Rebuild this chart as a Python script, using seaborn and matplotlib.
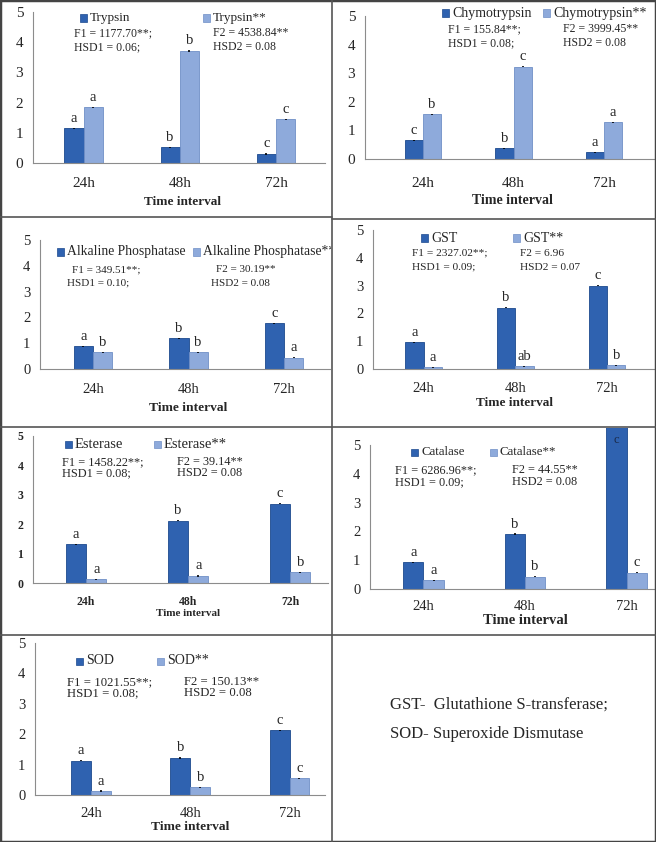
import numpy as np
import pandas as pd
import matplotlib
matplotlib.use("Agg")
import matplotlib.pyplot as plt
import seaborn as sns
from matplotlib.patches import Rectangle
from matplotlib.lines import Line2D

sns.set_style("white")
plt.rcParams['font.family'] = ['Liberation Serif', 'DejaVu Serif']

W, H = 656, 842
DARK = "#2f62b0"
LIGHT = "#8eaadb"
DARK_EDGE = "#1d4a8e"
LIGHT_EDGE = "#6f8fc6"
AXIS = "#8c8c8c"
LETTER_FS = 10.5

times = ["24h", "48h", "72h"]

trypsin = [1.15, 0.52, 0.30]
trypsin_ss = [1.85, 3.71, 1.45]
trypsin_let = ["a", "b", "c"]
trypsin_ss_let = ["a", "b", "c"]

chymo = [0.66, 0.37, 0.23]
chymo_ss = [1.57, 3.23, 1.28]
chymo_let = ["c", "b", "a"]
chymo_ss_let = ["b", "c", "a"]

alp = [0.89, 1.19, 1.77]
alp_ss = [0.65, 0.65, 0.44]
alp_let = ["a", "b", "c"]
alp_ss_let = ["b", "b", "a"]

gst = [0.96, 2.21, 3.00]
gst_ss = [0.06, 0.10, 0.14]
gst_let = ["a", "b", "c"]
gst_ss_let = ["a", "ab", "b"]

est = [1.31, 2.12, 2.70]
est_ss = [0.12, 0.24, 0.37]
est_let = ["a", "b", "c"]
est_ss_let = ["a", "a", "b"]

cat = [0.93, 1.91, 6.30]
cat_ss = [0.30, 0.42, 0.56]
cat_let = ["a", "b", "c"]
cat_ss_let = ["a", "b", "c"]

sod = [1.13, 1.22, 2.13]
sod_ss = [0.13, 0.25, 0.55]
sod_let = ["a", "b", "c"]
sod_ss_let = ["a", "b", "c"]

err = 0.02

panels = [
    dict(name="Trypsin", v1=trypsin, v2=trypsin_ss, l1=trypsin_let, l2=trypsin_ss_let,
         s1="F1 = 1177.70**;", h1="HSD1 = 0.06;", s2="F2 = 4538.84**", h2="HSD2 = 0.08",
         c0=83.5, step=96.3, xa=33, xb=325, y0=163, y5=12, ytop=12, clip=(0, 332),
         leg=[(80, 18), (203, 18)], st=[(74, 74), (213, 213), 33, 47],
         tick_fs=11, leg_fs=9.5, st_fs=8.5, lab_fs=9.5, tick_y=182, lab=(182, 202)),
    dict(name="Chymotrypsin", v1=chymo, v2=chymo_ss, l1=chymo_let, l2=chymo_ss_let,
         s1="F1 = 155.84**;", h1="HSD1 = 0.08;", s2="F2 = 3999.45**", h2="HSD2 = 0.08",
         c0=423, step=90.5, xa=365, xb=655, y0=159, y5=16, ytop=16, clip=(332, W),
         leg=[(442, 13), (543, 13)], st=[(448, 448), (563, 563), 29, 43],
         tick_fs=11, leg_fs=10, st_fs=8.5, lab_fs=10, tick_y=182, lab=(512, 200)),
    dict(name="Alkaline Phosphatase", v1=alp, v2=alp_ss, l1=alp_let, l2=alp_ss_let,
         s1="F1 = 349.51**;", h1="HSD1 = 0.10;", s2="F2 = 30.19**", h2="HSD2 = 0.08",
         c0=93, step=95.5, xa=40, xb=330, y0=369, y5=240, ytop=240, clip=(0, 331),
         leg=[(57, 252), (193, 252)], st=[(72, 67), (216, 211), 270, 283],
         tick_fs=10.5, leg_fs=9.8, st_fs=8, lab_fs=9.7, tick_y=388, lab=(188, 408)),
    dict(name="GST", v1=gst, v2=gst_ss, l1=gst_let, l2=gst_ss_let,
         s1="F1 = 2327.02**;", h1="HSD1 = 0.09;", s2="F2 = 6.96", h2="HSD2 = 0.07",
         c0=423.5, step=91.75, xa=373, xb=655, y0=369, y5=230, ytop=230, clip=(332, W),
         leg=[(421, 238), (513, 238)], st=[(412, 412), (520, 520), 253, 267],
         tick_fs=10.5, leg_fs=10, st_fs=8.2, lab_fs=9.5, tick_y=387, lab=(515, 403)),
    dict(name="Esterase", v1=est, v2=est_ss, l1=est_let, l2=est_ss_let,
         s1="F1 = 1458.22**;", h1="HSD1 = 0.08;", s2="F2 = 39.14**", h2="HSD2 = 0.08",
         c0=86, step=102, xa=33, xb=328, y0=583, y5=436, ytop=436, clip=(0, 332),
         leg=[(65, 444), (154, 444)], st=[(62, 62), (177, 177), 462, 473],
         tick_fs=8.5, tick_bold=True, leg_fs=10.5, st_fs=8.8, lab_fs=8, tick_y=600, lab=(188, 613)),
    dict(name="Catalase", v1=cat, v2=cat_ss, l1=cat_let, l2=cat_ss_let,
         s1="F1 = 6286.96**;", h1="HSD1 = 0.09;", s2="F2 = 44.55**", h2="HSD2 = 0.08",
         c0=423.5, step=101.5, xa=370, xb=655, y0=589, y5=445, ytop=428, clip=(332, W),
         leg=[(411, 452), (490, 452)], st=[(395, 395), (512, 512), 470, 482],
         tick_fs=10.5, leg_fs=9.3, st_fs=8.8, lab_fs=10.5, tick_y=605, lab=(525, 620)),
    dict(name="SOD", v1=sod, v2=sod_ss, l1=sod_let, l2=sod_ss_let,
         s1="F1 = 1021.55**;", h1="HSD1 = 0.08;", s2="F2 = 150.13**", h2="HSD2 = 0.08",
         c0=91, step=99.25, xa=35, xb=325, y0=795, y5=643, ytop=643, clip=(0, 332),
         leg=[(76, 661), (157, 661)], st=[(67, 67), (184, 184), 682, 693],
         tick_fs=10.5, leg_fs=10, st_fs=9.2, lab_fs=9.7, tick_y=812, lab=(190, 827)),
]

fig = plt.figure(figsize=(W / 100, H / 100), dpi=100)


def fx(x):
    return x / W


def fy(y):
    return 1 - y / H


for p in panels:
    unit = (p["y0"] - p["y5"]) / 5
    top_val = (p["y0"] - p["ytop"]) / unit
    ax = fig.add_axes([fx(p["xa"]), fy(p["y0"]), (p["xb"] - p["xa"]) / W, (p["y0"] - p["ytop"]) / H])
    df = pd.DataFrame({
        "time": times * 2,
        "value": p["v1"] + p["v2"],
        "group": [p["name"]] * 3 + [p["name"] + "**"] * 3,
    })
    sns.barplot(data=df, x="time", y="value", hue="group", palette=[DARK, LIGHT],
                width=0.4, errorbar=None, legend=False, saturation=1, ax=ax)
    ax.set_xlim((p["xa"] - p["c0"]) / p["step"], (p["xb"] - p["c0"]) / p["step"])
    ax.set_ylim(0, top_val)
    ax.set_yticks(range(6))

    for cont, letters, edge in zip(ax.containers, [p["l1"], p["l2"]], [DARK_EDGE, LIGHT_EDGE]):
        for bar, lt in zip(cont, letters):
            bar.set_edgecolor(edge)
            bar.set_linewidth(0.6)
            h = bar.get_height()
            x = bar.get_x() + bar.get_width() / 2
            if h > top_val:
                ax.annotate(lt, (x, top_val), xytext=(0, -4), textcoords="offset points",
                            ha="center", va="top", fontsize=9, color="#1a2a4a")
            else:
                ax.errorbar(x, h, yerr=err, fmt="none", ecolor="black", elinewidth=1.2, capsize=0)
                ax.annotate(lt, (x, h), xytext=(0, 2.5), textcoords="offset points",
                            ha="center", va="bottom", fontsize=LETTER_FS)

    sns.despine(ax=ax)
    for side in ["left", "bottom"]:
        ax.spines[side].set_color(AXIS)
        ax.spines[side].set_linewidth(0.8)
    ax.spines["left"].set_bounds(0, 5)
    ax.tick_params(axis="y", length=4, color=AXIS, labelsize=p["tick_fs"], pad=3)
    pad_pt = (p["tick_y"] - p["y0"]) * 0.72 - 0.35 * p["tick_fs"]
    ax.tick_params(axis="x", length=0, labelsize=p["tick_fs"], pad=pad_pt)
    if p.get("tick_bold"):
        for t in ax.get_xticklabels() + ax.get_yticklabels():
            t.set_fontweight("bold")
    ax.set_ylabel("")
    ax.set_xlabel("Time interval", fontsize=p["lab_fs"], fontweight="bold")
    lx, ly = p["lab"]
    ax.xaxis.set_label_coords((lx - p["xa"]) / (p["xb"] - p["xa"]),
                              (p["y0"] - ly) / (p["y0"] - p["ytop"]))
    ax.xaxis.label.set_va("center")
    ax.patch.set_alpha(0)

    # clip region of this panel, so long legend text stops at the divider
    cx0, cx1 = p["clip"]
    clip_rect = Rectangle((fx(cx0), 0), (cx1 - cx0) / W, 1, transform=fig.transFigure)

    # legend entries
    for (mx, my), lbl, col, edge in zip(p["leg"], [p["name"], p["name"] + "**"],
                                        [DARK, LIGHT], [DARK_EDGE, LIGHT_EDGE]):
        fig.add_artist(Rectangle((fx(mx), fy(my + 3.5)), 7 / W, 7 / H, transform=fig.transFigure,
                                 facecolor=col, edgecolor=edge, linewidth=0.5))
        t = fig.text(fx(mx + 10), fy(my), lbl, fontsize=p["leg_fs"], va="center", ha="left")
        t.set_clip_path(clip_rect)

    # statistics
    (f1x, h1x), (f2x, h2x), ya, yb = p["st"]
    fig.text(fx(f1x), fy(ya), p["s1"], fontsize=p["st_fs"], va="center")
    fig.text(fx(h1x), fy(yb), p["h1"], fontsize=p["st_fs"], va="center")
    fig.text(fx(f2x), fy(ya), p["s2"], fontsize=p["st_fs"], va="center")
    fig.text(fx(h2x), fy(yb), p["h2"], fontsize=p["st_fs"], va="center")

# abbreviations cell
fig.text(fx(390), fy(705), "GST-  Glutathione S-transferase;", fontsize=12, va="center")
fig.text(fx(390), fy(734), "SOD- Superoxide Dismutase", fontsize=12, va="center")

# grid lines between panels
lines = [
    ((332, 0), (332, H)),
    ((0, 217), (332, 217)),
    ((332, 219), (W, 219)),
    ((0, 427), (W, 427)),
    ((0, 635), (W, 635)),
]
for (x1, y1), (x2, y2) in lines:
    fig.add_artist(Line2D([fx(x1), fx(x2)], [fy(y1), fy(y2)], transform=fig.transFigure,
                          color="#555555", linewidth=1.2))
fig.add_artist(Rectangle((0, 0), 1, 1, transform=fig.transFigure, fill=False,
                         edgecolor="#444444", linewidth=2.5))

fig.savefig("out.png", dpi=100)
